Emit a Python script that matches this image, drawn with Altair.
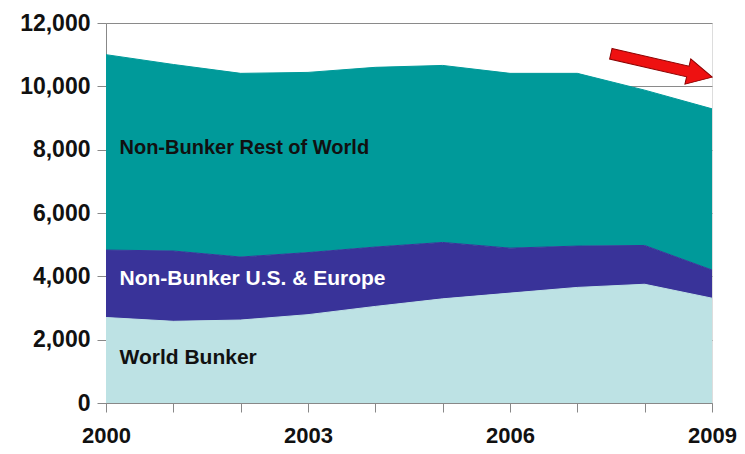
import altair as alt
import pandas as pd

years = [2000, 2001, 2002, 2003, 2004, 2005, 2006, 2007, 2008, 2009]
world_bunker = [2700, 2580, 2620, 2790, 3050, 3290, 3470, 3650, 3750, 3310]
nonbunker_us_eu = [2130, 2220, 1990, 1960, 1875, 1780, 1420, 1305, 1225, 890]
nonbunker_row = [6170, 5890, 5800, 5690, 5675, 5590, 5520, 5455, 4905, 5090]

series = ["World Bunker", "Non-Bunker U.S. & Europe", "Non-Bunker Rest of World"]
colors = ["#bde2e4", "#393399", "#009a9a"]

y_ticks = [0, 2000, 4000, 6000, 8000, 10000, 12000]
x_label_years = [2000, 2003, 2006, 2009]

label_text = ["Non-Bunker Rest of World", "Non-Bunker U.S. & Europe", "World Bunker"]
label_x = [2000.2, 2000.2, 2000.2]
label_y = [8050, 3930, 1410]
label_color = ["#111111", "#ffffff", "#111111"]
label_size = [20, 21, 21]

arrow_x = [2008.25]
arrow_y = [10660]

rows = []
for i, yr in enumerate(years):
    for k, (name, vals) in enumerate(zip(series, [world_bunker, nonbunker_us_eu, nonbunker_row])):
        rows.append({"year": yr, "series": name, "value": vals[i], "order": k})
df = pd.DataFrame(rows)

xscale = alt.Scale(domain=[2000, 2009], nice=False, zero=False)
yscale = alt.Scale(domain=[0, 12000], nice=False)

shown = " || ".join(f"datum.value == {y}" for y in x_label_years)

areas = alt.Chart(df).mark_area(
    line={"color": "#1c2450", "strokeWidth": 1},
    opacity=1,
).encode(
    x=alt.X("year:Q", scale=xscale, title=None,
            axis=alt.Axis(values=years, grid=False,
                          labelExpr=f"({shown}) ? '' + datum.value : ''",
                          labelFont="Liberation Sans", labelFontWeight="bold", labelFontSize=22,
                          labelColor="#111111", labelPadding=13, tickSize=9, tickColor="#888888",
                          domainColor="#888888", labelFlush=False, labelOverlap=False)),
    y=alt.Y("value:Q", stack="zero", scale=yscale, title=None,
            axis=alt.Axis(values=y_ticks, labelExpr="format(datum.value, ',')",
                          grid=True, gridColor="#8a8a8a", gridWidth=1,
                          labelFont="Liberation Sans", labelFontWeight="bold", labelFontSize=23,
                          labelColor="#111111", labelPadding=7, tickSize=9, tickColor="#888888",
                          domainColor="#888888")),
    color=alt.Color("series:N", scale=alt.Scale(domain=series, range=colors), legend=None),
    order=alt.Order("order:Q"),
)

lab_df = pd.DataFrame({"text": label_text, "x": label_x, "y": label_y,
                       "c": label_color, "s": label_size})
labels = alt.Chart(lab_df).mark_text(
    align="left", baseline="middle", font="Liberation Sans", fontWeight="bold"
).encode(
    x=alt.X("x:Q", scale=xscale),
    y=alt.Y("y:Q", scale=yscale),
    text="text:N",
    color=alt.Color("c:N", scale=None),
    size=alt.Size("s:Q", scale=None),
)

arrow_path = "M -1 -0.105 L 0.52 -0.105 L 0.52 -0.25 L 1 0 L 0.52 0.25 L 0.52 0.105 L -1 0.105 Z"
arr_df = pd.DataFrame({"x": arrow_x, "y": arrow_y})
arrow = alt.Chart(arr_df).mark_point(
    shape=arrow_path, size=10816, angle=13, filled=True, fill="#ee1111",
    stroke="#8b0000", strokeWidth=1, opacity=1
).encode(
    x=alt.X("x:Q", scale=xscale),
    y=alt.Y("y:Q", scale=yscale),
)

chart = alt.layer(areas, labels, arrow).properties(
    width=606, height=380,
    autosize=alt.AutoSizeParams(type="none"),
    padding={"left": 98, "top": 15, "right": 25, "bottom": 44},
).configure_view(stroke="#888888", strokeWidth=1).configure(background="white")

chart.save("out.html", embed_options={"renderer": "svg", "actions": False})
